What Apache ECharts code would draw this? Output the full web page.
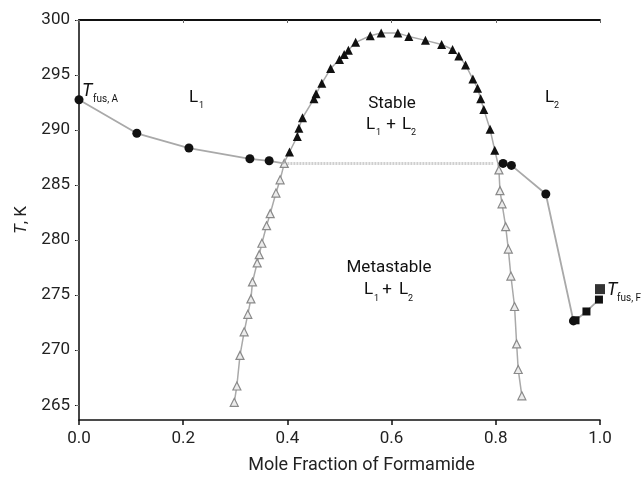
<!DOCTYPE html>
<html>
<head>
<meta charset="utf-8">
<script src="https://cdn.jsdelivr.net/npm/echarts@6/dist/echarts.min.js"></script>
<style>
  html, body { margin: 0; padding: 0; background: #fff; }
  #chart { width: 641px; height: 479px; }
</style>
</head>
<body>
<div id="chart"></div>
<script>
  // L1-rich liquidus (black circles), last point is the junction with the dome
  var l1X = [0, 0.111, 0.211, 0.328, 0.365, 0.393];
  var l1T = [292.75, 289.71, 288.37, 287.39, 287.21, 286.97];

  // L2-rich branch: circles then squares
  var l2X = [0.804, 0.814, 0.830, 0.896, 0.949, 0.953, 0.974, 0.998];
  var l2T = [286.97, 286.97, 286.79, 284.19, 272.66, 272.72, 273.52, 274.60];
  var l2Sym = ['none', 'circle', 'circle', 'circle', 'circle', 'rect', 'rect', 'rect'];

  // melting point of formamide
  var fusFX = [1.0];
  var fusFT = [275.55];

  // stable miscibility dome (black triangles), ends are junctions
  var domeX = [0.393, 0.404, 0.419, 0.422, 0.429, 0.451, 0.455, 0.466, 0.483, 0.500, 0.509, 0.517, 0.531, 0.559, 0.580,
               0.612, 0.633, 0.665, 0.696, 0.717, 0.729, 0.742, 0.756, 0.765, 0.771, 0.777, 0.789, 0.798, 0.804];
  var domeT = [286.97, 288.01, 289.42, 290.16, 291.12, 292.84, 293.29, 294.25, 295.59, 296.42, 296.87, 297.25, 297.97, 298.57, 298.81,
               298.81, 298.51, 298.15, 297.78, 297.32, 296.72, 295.91, 294.63, 293.80, 292.84, 291.86, 290.07, 288.17, 286.97];

  // metastable branches (open triangles)
  var metaLX = [0.394, 0.386, 0.378, 0.367, 0.360, 0.351, 0.346, 0.342, 0.333, 0.330, 0.324, 0.317, 0.309, 0.303, 0.298];
  var metaLT = [286.97, 285.48, 284.28, 282.41, 281.31, 279.72, 278.68, 277.93, 276.20, 274.66, 273.26, 271.67, 269.53, 266.75, 265.27];
  var metaRX = [0.804, 0.806, 0.808, 0.812, 0.819, 0.824, 0.829, 0.836, 0.840, 0.843, 0.850];
  var metaRT = [286.97, 286.38, 284.50, 283.30, 281.22, 279.19, 276.74, 273.97, 270.57, 268.25, 265.86];

  // tie line at the monotectic temperature
  var tieX = [0.40, 0.795];
  var tieT = [286.97, 286.97];

  var yTicks = [265, 270, 275, 280, 285, 290, 295, 300];

  function pairs(xs, ys) {
    return xs.map(function (x, i) { return [x, ys[i]]; });
  }

  var chart = echarts.init(document.getElementById('chart'));
  var FONT = 'Roboto, "Liberation Sans", sans-serif';
  var LINE = '#a9a9a9';

  var domeData = pairs(domeX, domeT).map(function (p, i) {
    return (i === 0 || i === domeX.length - 1) ? { value: p, symbol: 'none' } : p;
  });
  var metaRData = pairs(metaRX, metaRT).map(function (p, i) {
    return i === 0 ? { value: p, symbol: 'none' } : p;
  });
  var l1Data = pairs(l1X, l1T).map(function (p, i) {
    return i === l1X.length - 1 ? { value: p, symbol: 'none' } : p;
  });
  var l2Data = pairs(l2X, l2T).map(function (p, i) {
    return { value: p, symbol: l2Sym[i], symbolSize: l2Sym[i] === 'rect' ? 8 : 9 };
  });

  // x, y = anchor; align left unless given
  function txt(x, y, s, size, opt) {
    opt = opt || {};
    return {
      type: 'text', x: x, y: y, z: 100,
      style: {
        text: s, fontSize: size, fontFamily: FONT, fill: '#111',
        fontStyle: opt.italic ? 'italic' : 'normal',
        align: opt.align || 'left', verticalAlign: 'middle'
      }
    };
  }

  chart.setOption({
    animation: false,
    grid: { left: 79, right: 41, top: 20, bottom: 53 },
    xAxis: [{
      type: 'value', min: 0, max: 1, interval: 0.2,
      name: 'Mole Fraction of Formamide', nameLocation: 'middle', nameGap: 36,
      nameTextStyle: { fontSize: 18, fontFamily: FONT, color: '#222', padding: [0, 0, 0, 44] },
      axisLine: { lineStyle: { color: '#111', width: 1.5 } },
      axisTick: { show: true, length: 5, lineStyle: { color: '#111', width: 1.5 } },
      axisLabel: { fontSize: 17, fontFamily: FONT, color: '#222', margin: 10,
        formatter: function (v) { return v.toFixed(1); } },
      splitLine: { show: false }
    }, {
      type: 'value', min: 0, max: 1, interval: 0.2, position: 'top',
      axisLine: { lineStyle: { color: '#111', width: 1.8 } },
      axisTick: { inside: true, length: 3, lineStyle: { color: '#666' } },
      axisLabel: { show: false }, splitLine: { show: false }
    }],
    yAxis: [{
      type: 'value', min: 263.66, max: 300,
      name: '{i|T}, K', nameLocation: 'middle', nameGap: 47, nameRotate: 90,
      nameTextStyle: { fontSize: 17, fontFamily: FONT, color: '#222',
        rich: { i: { fontStyle: 'italic', fontSize: 17, fontFamily: FONT, color: '#222' } } },
      axisLine: { show: true, lineStyle: { color: '#111', width: 1.5 } },
      axisTick: { show: true, length: 4, customValues: yTicks, lineStyle: { color: '#111' } },
      axisLabel: { fontSize: 17, fontFamily: FONT, color: '#222', margin: 9, customValues: yTicks },
      splitLine: { show: false }
    }, {
      type: 'value', min: 263.66, max: 300, position: 'right',
      axisLine: { show: true, lineStyle: { color: '#444', width: 1.5 } },
      axisTick: { show: true, inside: true, length: 3, customValues: yTicks, lineStyle: { color: '#777' } },
      axisLabel: { show: false, customValues: yTicks }, splitLine: { show: false }
    }],
    graphic: [
      txt(82, 91, 'T', 18, { italic: true }),
      txt(93, 99, 'fus, A', 10),
      txt(189, 98, 'L', 17),
      txt(199, 106, '1', 9),
      txt(545, 98, 'L', 17),
      txt(554, 106, '2', 9),
      txt(392, 104, 'Stable', 17, { align: 'center' }),
      txt(366, 125, 'L', 17),
      txt(376, 133, '1', 9),
      txt(391, 125, '+', 17, { align: 'center' }),
      txt(402, 125, 'L', 17),
      txt(411, 133, '2', 9),
      txt(389, 268, 'Metastable', 17, { align: 'center' }),
      txt(364, 290, 'L', 17),
      txt(374, 299, '1', 9),
      txt(387, 290, '+', 17, { align: 'center' }),
      txt(399, 290, 'L', 17),
      txt(408, 299, '2', 9),
      txt(607, 290, 'T', 18, { italic: true }),
      txt(617, 298, 'fus, F', 10)
    ],
    series: [
      {
        type: 'line', data: pairs(tieX, tieT), symbol: 'none',
        lineStyle: { color: '#cfcfcf', width: 3, type: [2, 1] }, z: 1
      },
      {
        type: 'line', data: pairs(metaLX, metaLT), symbol: 'triangle', symbolSize: 8,
        lineStyle: { color: LINE, width: 1.5 },
        itemStyle: { color: '#ececec', borderColor: '#8a8a8a', borderWidth: 1.2 }, z: 2
      },
      {
        type: 'line', data: metaRData, symbol: 'triangle', symbolSize: 8,
        lineStyle: { color: LINE, width: 1.5 },
        itemStyle: { color: '#ececec', borderColor: '#8a8a8a', borderWidth: 1.2 }, z: 2
      },
      {
        type: 'line', data: domeData, symbol: 'triangle', symbolSize: 9,
        lineStyle: { color: LINE, width: 1.5 },
        itemStyle: { color: '#111' }, z: 3
      },
      {
        type: 'line', data: l1Data, symbol: 'circle', symbolSize: 9,
        lineStyle: { color: LINE, width: 1.8 },
        itemStyle: { color: '#111' }, z: 4
      },
      {
        type: 'line', data: l2Data, symbol: 'circle', symbolSize: 9,
        lineStyle: { color: LINE, width: 1.8 },
        itemStyle: { color: '#111' }, z: 4
      },
      {
        type: 'scatter', data: pairs(fusFX, fusFT), symbol: 'rect', symbolSize: 10,
        clip: false, itemStyle: { color: '#000' }, z: 5
      }
    ]
  });
</script>
</body>
</html>
